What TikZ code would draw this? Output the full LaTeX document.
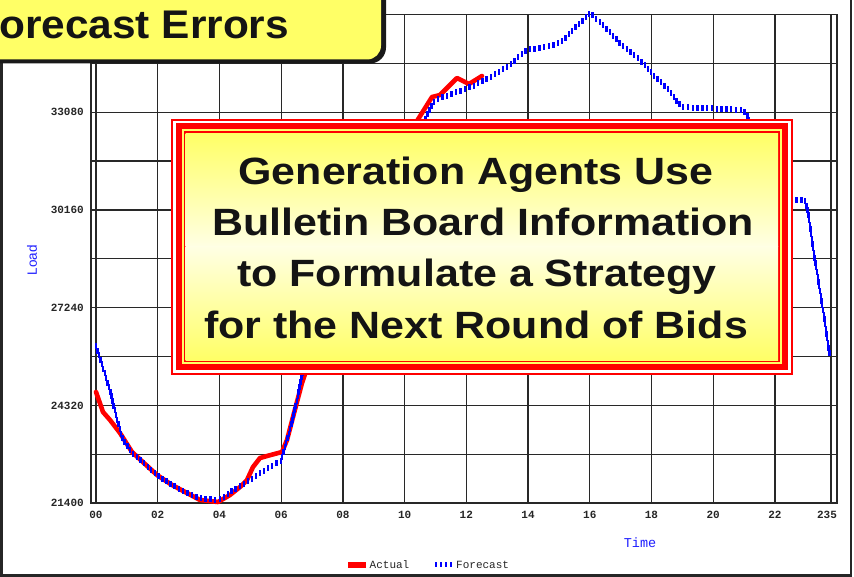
\documentclass[tikz,border=0pt]{standalone}
\usepackage{fontspec}
\usetikzlibrary{decorations.markings}
\setmainfont{Liberation Sans}
\newfontfamily\monof{Liberation Mono}
\definecolor{ttlyellow}{RGB}{255,255,102}
\definecolor{paleyellow}{RGB}{255,255,228}
\definecolor{gridgray}{RGB}{40,40,40}
\definecolor{lblue}{RGB}{30,30,255}
\begin{document}
\begin{tikzpicture}[x=1pt,y=-1pt,
  gridl/.style={draw=gridgray, line width=1.3pt},
  ylab/.style={font=\monof\bfseries\fontsize{11}{11}\selectfont, anchor=east, inner sep=0pt, text=black!85},
  xlab/.style={font=\monof\bfseries\fontsize{11}{11}\selectfont, anchor=center, inner sep=0pt, text=black!85},
  legtext/.style={font=\monof\fontsize{11}{11}\selectfont, anchor=west, inner sep=0pt, text=black!85},
  actual/.style={draw=red, line width=4.6pt, line join=round, line cap=round},
  forecast/.style={decoration={markings, mark=between positions 0 and 1 step 4.8pt with {\pgftransformresetnontranslations \fill[blue] (-1.2pt,-3pt) rectangle (1.2pt,3pt);}}, decorate},
  msgline/.style={font=\bfseries\fontsize{38}{38}\selectfont, anchor=base, inner sep=0pt, text=black!92}
]
\useasboundingbox (0,0) rectangle (854,577);
\fill[white] (0,0) rectangle (854,577);
% outer frame
\draw[draw=black!85, line width=2.6pt] (1.5,-10) rectangle (851,575.5);
% plot grid
\foreach \k in {1,...,9} \draw[gridl] (91,{14.5+\k*48.85}) -- (837,{14.5+\k*48.85});
\foreach \h in {0,2,...,22} \draw[gridl] ({96+30.86*\h},14.5) -- ({96+30.86*\h},503);
\draw[gridl] (831,14.5) -- (831,503);
\draw[gridl] (91,14.5) rectangle (837,503);
% y labels
\foreach \v/\y in {33080/112.2,30160/210,27240/307.8,24320/405.5,21400/503}
  \node[ylab] (y\v) at (84,\y) {\v};
% x labels
\foreach \h/\t in {0/00,2/02,4/04,6/06,8/08,10/10,12/12,14/14,16/16,18/18,20/20,22/22}
  \node[xlab] (x\t) at ({96+30.86*\h},514.5) {\t};
\node[xlab] (x235) at (827,514.5) {235};
% axis titles
\node[font=\monof\fontsize{13.5}{13.5}\selectfont, text=lblue, inner sep=0pt] (timelab) at (640,543) {Time};
\node[font=\fontsize{13.5}{13.5}\selectfont, text=lblue, rotate=90, inner sep=0pt] (loadlab) at (32,260) {Load};
% legend
\fill[red] (348,562) rectangle (366,567.5);
\node[legtext] (legA) at (369.5,565) {Actual};
\draw[draw=blue, line width=5pt, dash pattern=on 2pt off 3pt] (435,564.5) -- (453,564.5);
\node[legtext] (legF) at (456,565) {Forecast};
% curves
\draw[actual] (96,392) -- (103,412) -- (110,420) -- (120,433) -- (132,452) -- (145,464) -- (157,475) -- (172,485) -- (187,493) -- (200,500) -- (218,502) -- (230,495) -- (240,487) -- (247,480) -- (253,467) -- (260,458) -- (267,456) -- (282,452) -- (287,440) -- (293,417) -- (302,383) -- (330,300) -- (360,230) -- (395,170) -- (417,121) -- (432,97) -- (440,95) -- (457,78) -- (469,84) -- (482,76);
\path[forecast] (96,346) -- (103,368) -- (110,390) -- (117,420) -- (123,440) -- (132,453) -- (145,464) -- (157,475) -- (172,485) -- (187,493) -- (200,498) -- (218,500) -- (226,496) -- (233,490) -- (247,482) -- (260,473) -- (270,467) -- (281,461) -- (290,430) -- (297,400) -- (303,370) -- (330,300) -- (360,230) -- (395,170) -- (423,125) -- (433,102) -- (443,97) -- (463,90) -- (473,86) -- (490,77) -- (507,67) -- (527,50) -- (543,47) -- (560,43) -- (570,33) -- (590,13) -- (600,22) -- (620,43) -- (643,63) -- (653,75) -- (667,88) -- (680,105) -- (682,107) -- (743,110) -- (747,115) -- (750,123) -- (770,160) -- (790,200) -- (805,200) -- (808,213) -- (815,260) -- (823,310) -- (830,357);
% title box
\fill[black!90, rounded corners=16pt] (-40,-40) rectangle (386,63.5);
\fill[ttlyellow, rounded corners=14pt] (-40,-40) rectangle (381,59.5);
\node[font=\bfseries\fontsize{40}{40}\selectfont, anchor=base west, inner sep=0pt, text=black!92] (title) at (-1,39) {\scalebox{1.06}[1]{orecast Errors}};
% message box
\draw[red, line width=2pt] (171.5,120) rectangle (792,374);
\fill[white] (172.5,121) rectangle (791,373);
\fill[red] (175.5,123.5) rectangle (788,370);
\fill[ttlyellow] (181.5,129.5) rectangle (782,364);
\fill[red] (183.5,131.5) rectangle (780,362);
\fill[top color=ttlyellow, bottom color=paleyellow] (185.5,133.5) rectangle (778,247);
\fill[top color=paleyellow, bottom color=ttlyellow] (185.5,246.5) rectangle (778,360);
\node[msgline] (l1) at (476,185) {\scalebox{1.13}[1]{Generation Agents Use}};
\node[msgline] (l2) at (483,236) {\scalebox{1.13}[1]{Bulletin Board Information}};
\node[msgline] (l3) at (477,287) {\scalebox{1.13}[1]{to Formulate a Strategy}};
\node[msgline] (l4) at (476,338) {\scalebox{1.13}[1]{for the Next Round of Bids}};
\end{tikzpicture}
\end{document}
